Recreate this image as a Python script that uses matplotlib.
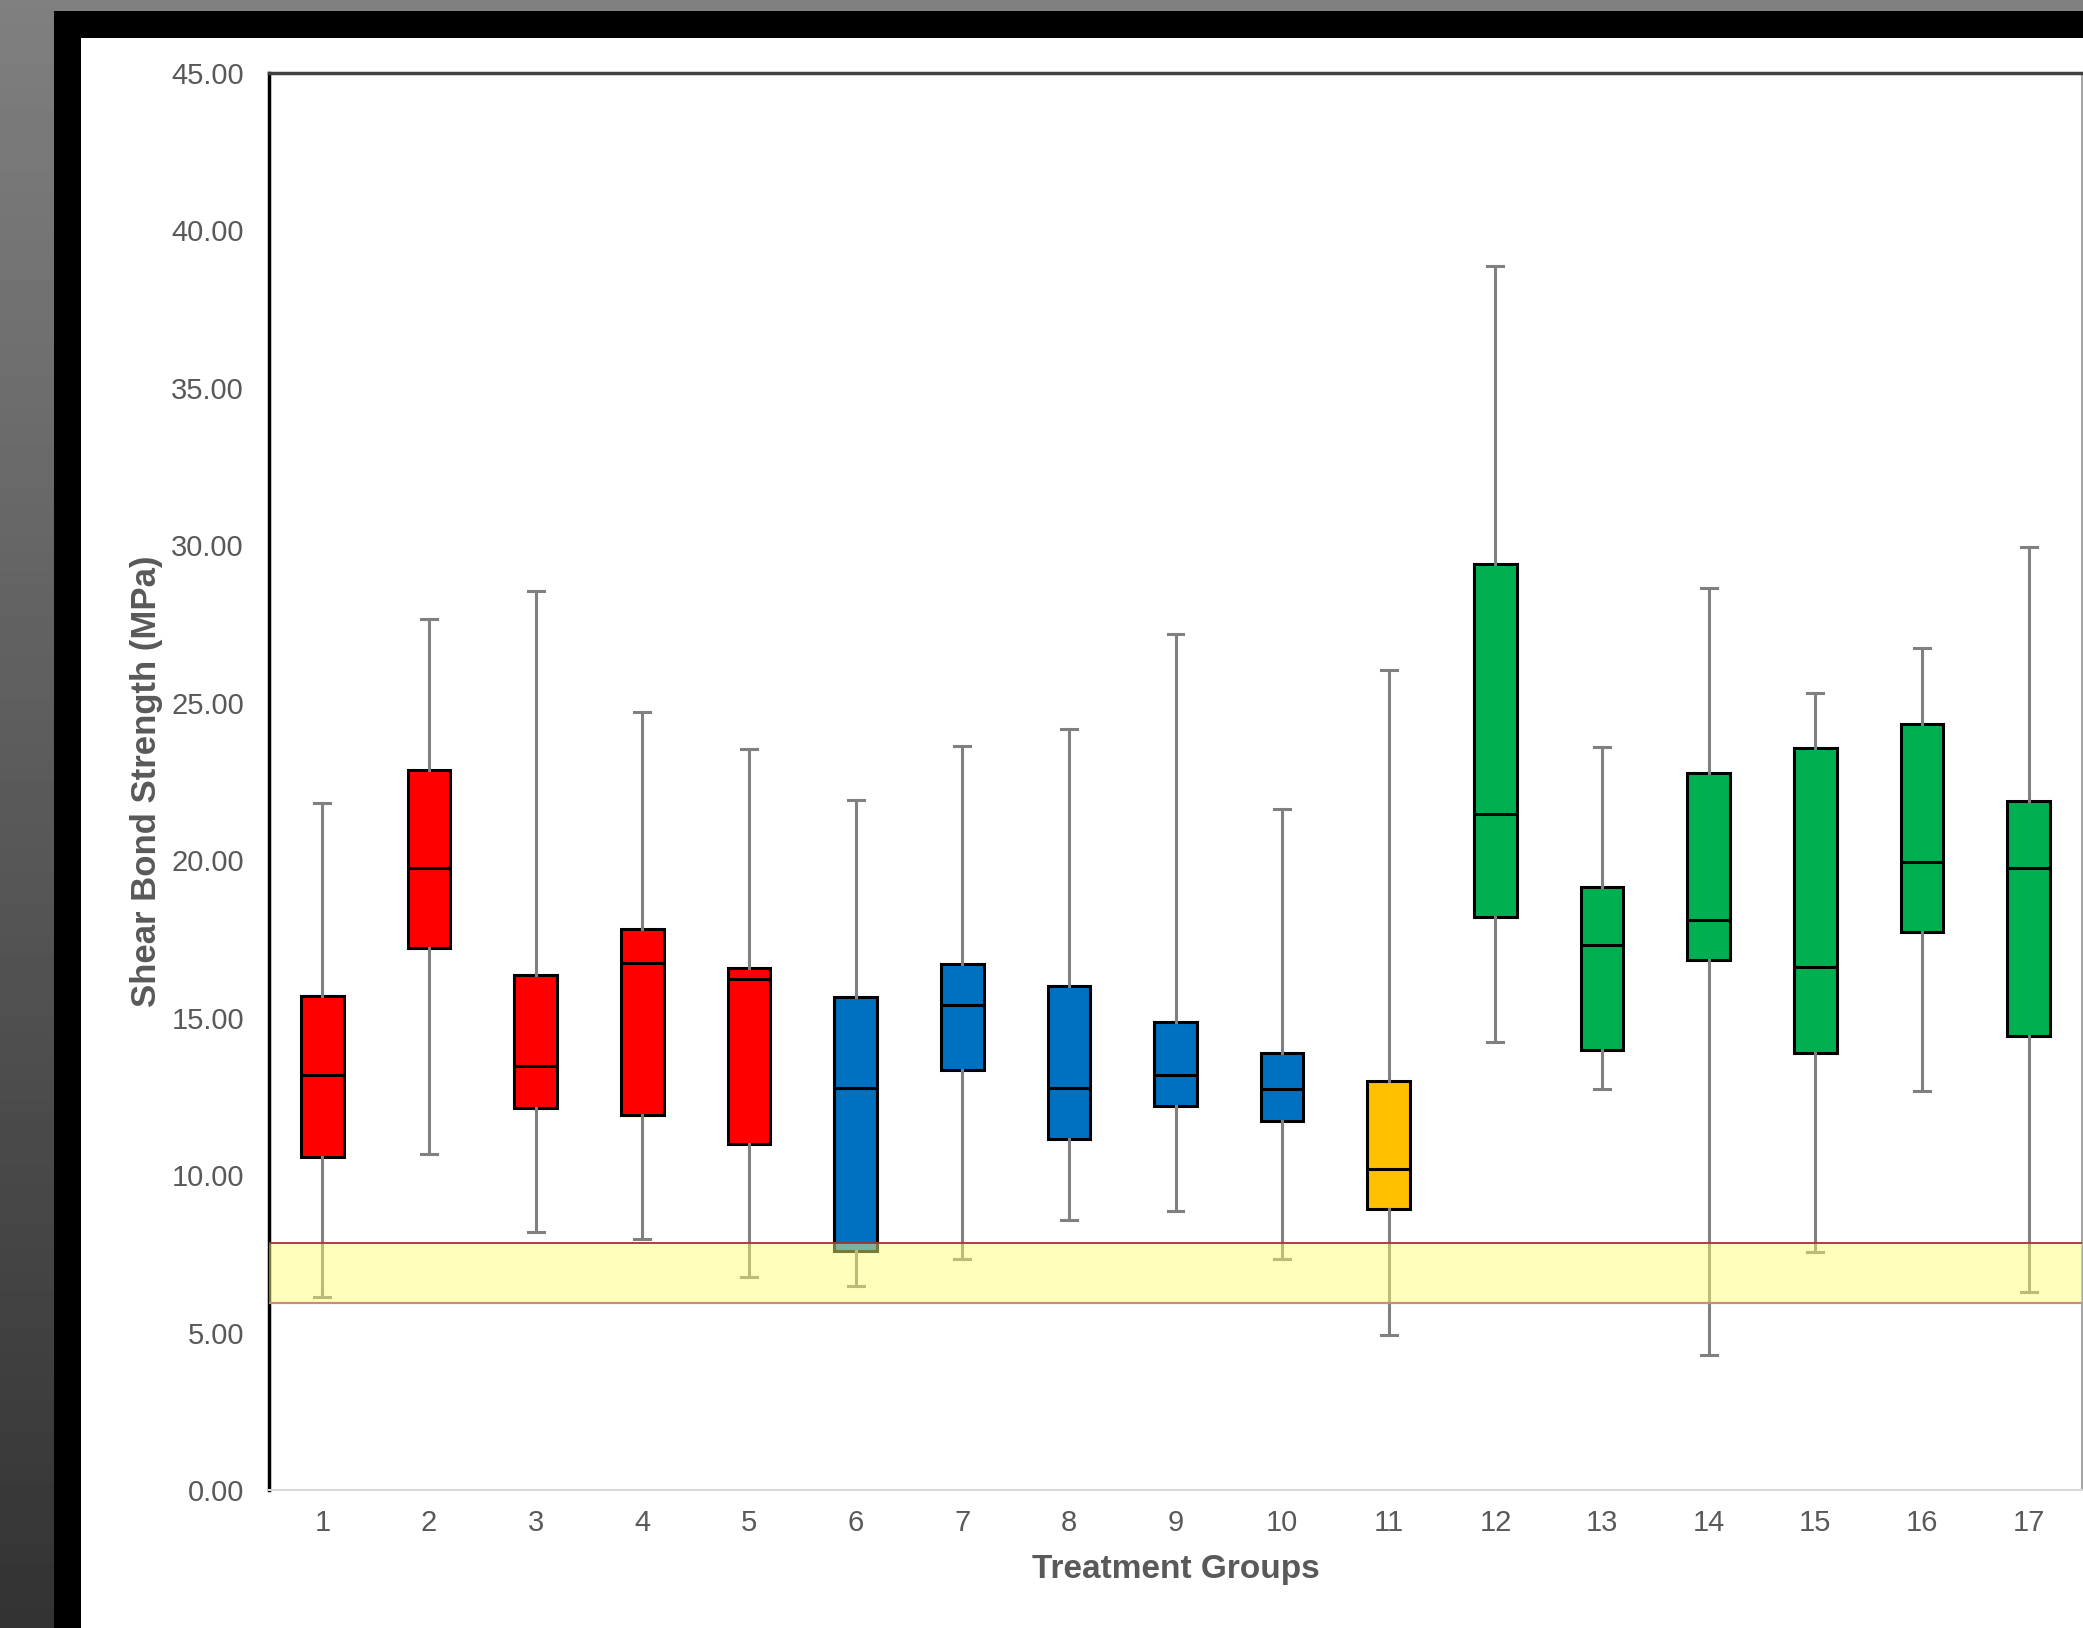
import numpy as np
import matplotlib
matplotlib.use('Agg')
import matplotlib.pyplot as plt
from matplotlib.patches import Rectangle

plt.rcParams['font.family'] = ['Liberation Sans', 'DejaVu Sans']

# ---- data ----
groups = [str(i) for i in range(1, 18)]
whisker_low = [6.12, 10.67, 8.20, 7.97, 6.76, 6.47, 7.35, 8.57, 8.86, 7.35, 4.91, 14.24, 12.72, 4.28, 7.57, 12.68, 6.30]
q1 = [10.56, 17.22, 12.14, 11.92, 10.99, 7.60, 13.33, 11.14, 12.21, 11.73, 8.92, 18.20, 13.98, 16.82, 13.89, 17.71, 14.41]
median = [13.17, 19.76, 13.46, 16.74, 16.24, 12.77, 15.40, 12.77, 13.17, 12.73, 10.18, 21.46, 17.30, 18.10, 16.62, 19.95, 19.76]
q3 = [15.70, 22.86, 16.34, 17.80, 16.58, 15.65, 16.70, 15.99, 14.86, 13.88, 12.99, 29.40, 19.15, 22.76, 23.55, 24.34, 21.88]
whisker_high = [21.83, 27.66, 28.55, 24.70, 23.52, 21.92, 23.62, 24.16, 27.20, 21.63, 26.03, 38.86, 23.60, 28.65, 25.30, 26.74, 29.95]
group_colors = ['#FF0000'] * 5 + ['#0070C0'] * 5 + ['#FFC000'] + ['#00B050'] * 6
band_low, band_high = 5.95, 7.85
yticks = np.arange(0, 46, 5)

W, H = 2083, 1628
fig = plt.figure(figsize=(W / 100, H / 100), dpi=100)

# background: gradient, black frame, white panel
bg = fig.add_axes([0, 0, 1, 1], zorder=-10)
grad = np.linspace(0.5, 0.2, 256).reshape(-1, 1)
bg.imshow(grad, cmap='gray', vmin=0, vmax=1, aspect='auto', extent=[0, 1, 0, 1])
bg.set_xlim(0, 1)
bg.set_ylim(0, 1)
bg.axis('off')
bg.add_patch(Rectangle((54 / W, 0), 1, 1 - 11 / H, facecolor='black', edgecolor='none'))
bg.add_patch(Rectangle((81 / W, 0), 1, 1 - 38 / H, facecolor='white', edgecolor='none'))

ax = fig.add_axes([269 / W, 1 - 1490 / H, (2082 - 269) / W, (1490 - 73) / H])
ax.set_facecolor('white')

stats = []
for i, g in enumerate(groups):
    stats.append(dict(label=g, whislo=whisker_low[i], q1=q1[i], med=median[i],
                      q3=q3[i], whishi=whisker_high[i], fliers=[]))
positions = np.arange(1, len(groups) + 1)
res = ax.bxp(stats, positions=positions, widths=0.4, patch_artist=True,
             showfliers=False, capwidths=0.15,
             boxprops=dict(edgecolor='black', linewidth=2.2),
             medianprops=dict(color='black', linewidth=2.2),
             whiskerprops=dict(color='#808080', linewidth=2.2),
             capprops=dict(color='#808080', linewidth=2.2))
for patch, c in zip(res['boxes'], group_colors):
    patch.set_facecolor(c)

# reference band
ax.axhspan(band_low, band_high, facecolor=(1, 1, 0.45), alpha=0.48, lw=0, zorder=5)
ax.axhline(band_high, color='#A83232', lw=1.3, zorder=6)
ax.axhline(band_low, color='#C88C78', lw=1.6, zorder=6)

ax.set_xlim(0.5, len(groups) + 0.5)
ax.set_ylim(0, 45)
ax.set_yticks(yticks)
ax.set_yticklabels([f'{v:.2f}' for v in yticks])
ax.set_xticks(positions)
ax.set_xticklabels(groups)
ax.tick_params(axis='both', length=0, labelsize=21, labelcolor='#595959')
ax.tick_params(axis='y', pad=18)
ax.tick_params(axis='x', pad=14)

ax.spines['left'].set_color('black')
ax.spines['left'].set_linewidth(2.5)
ax.spines['top'].set_color('#404040')
ax.spines['top'].set_linewidth(2.5)
ax.spines['bottom'].set_color('#D9D9D9')
ax.spines['bottom'].set_linewidth(1.5)
ax.spines['right'].set_color('#A6A6A6')
ax.spines['right'].set_linewidth(1.5)

ax.set_xlabel('Treatment Groups', fontsize=24, fontweight='bold', color='#595959', labelpad=12)
ax.set_ylabel('Shear Bond Strength (MPa)', fontsize=25, fontweight='bold', color='#595959', labelpad=6)

fig.savefig('out.png', dpi=100)
